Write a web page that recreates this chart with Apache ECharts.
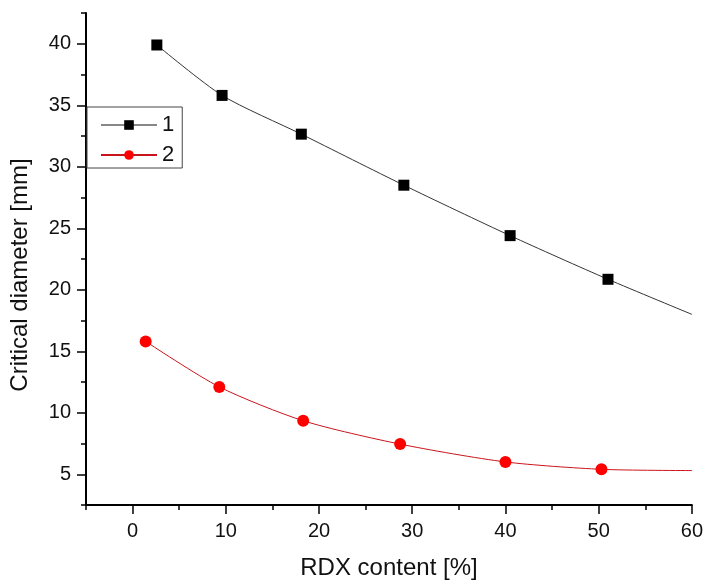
<!DOCTYPE html>
<html>
<head>
<meta charset="utf-8">
<script src="https://cdn.jsdelivr.net/npm/echarts@6/dist/echarts.min.js"></script>
<style>
  html, body { margin: 0; padding: 0; background: #fff; }
  #chart { width: 706px; height: 585px; }
</style>
</head>
<body>
<div id="chart"></div>
<script>
// series 1: black squares, series 2: red circles (x = RDX %, y = diameter mm)
const rdx1 = [2.6, 9.6, 18.1, 29.1, 40.5, 51.0, 60];
const dia1 = [39.9, 35.8, 32.65, 28.5, 24.4, 20.85, 18.0];
const rdx2 = [1.4, 9.3, 18.3, 28.7, 40.0, 50.3, 60];
const dia2 = [15.8, 12.1, 9.35, 7.45, 6.0, 5.4, 5.3];

const xLabels = [0, 10, 20, 30, 40, 50, 60];
const xMinor = [-5, 5, 15, 25, 35, 45, 55];
const yLabels = [5, 10, 15, 20, 25, 30, 35, 40];
const yMinor = [2.5, 7.5, 12.5, 17.5, 22.5, 27.5, 32.5, 37.5, 42.5];

const font = "Liberation Sans, Arial, sans-serif";

// last point of each curve is just the end of the fit line, no marker
function toPoints(xs, ys) {
  return xs.map((x, i) => {
    if (i === xs.length - 1) return { value: [x, ys[i]], symbol: "none" };
    return [x, ys[i]];
  });
}

const chart = echarts.init(document.getElementById("chart"));
chart.setOption({
  animation: false,
  grid: { left: 82, right: 13, top: 13, bottom: 76 },
  legend: {
    orient: "vertical",
    left: 87,
    top: 107,
    data: [
      { name: "1", lineStyle: { color: "#888" } },
      { name: "2", lineStyle: { color: "#c8141a" } },
    ],
    itemWidth: 56,
    itemHeight: 12,
    itemGap: 8,
    padding: [7, 8, 2, 13],
    borderColor: "#444",
    borderWidth: 1,
    backgroundColor: "#fff",
    textStyle: { fontFamily: font, fontSize: 22, color: "#111" },
  },
  xAxis: [
    {
      type: "value",
      min: -5,
      max: 60,
      position: "bottom",
      name: "RDX content [%]",
      nameLocation: "middle",
      nameGap: 51,
      nameTextStyle: { fontFamily: font, fontSize: 24, color: "#111" },
      splitLine: { show: false },
      axisLine: { onZero: false, lineStyle: { color: "#000", width: 2 } },
      axisTick: {
        customValues: xLabels,
        length: 9,
        lineStyle: { color: "#000", width: 1.5 },
      },
      axisLabel: {
        customValues: xLabels,
        margin: 16,
        fontFamily: font,
        fontSize: 20,
        color: "#111",
      },
    },
    {
      type: "value",
      min: -5,
      max: 60,
      position: "bottom",
      splitLine: { show: false },
      axisLine: { show: false, onZero: false },
      axisTick: {
        customValues: xMinor,
        length: 5,
        lineStyle: { color: "#000", width: 1.5 },
      },
      axisLabel: { show: false },
    },
  ],
  yAxis: [
    {
      type: "value",
      min: 2.5,
      max: 42.5,
      position: "left",
      name: "Critical diameter [mm]",
      nameLocation: "middle",
      nameGap: 54,
      nameTextStyle: {
        fontFamily: font,
        fontSize: 24,
        color: "#111",
        padding: [0, 32, 0, 0],
      },
      splitLine: { show: false },
      axisLine: { onZero: false, lineStyle: { color: "#000", width: 2 } },
      axisTick: {
        customValues: yLabels,
        length: 9,
        lineStyle: { color: "#000", width: 1.5 },
      },
      axisLabel: {
        customValues: yLabels,
        margin: 15,
        fontFamily: font,
        fontSize: 20,
        color: "#111",
      },
    },
    {
      type: "value",
      min: 2.5,
      max: 42.5,
      position: "left",
      splitLine: { show: false },
      axisLine: { show: false, onZero: false },
      axisTick: {
        customValues: yMinor,
        length: 5,
        lineStyle: { color: "#000", width: 1.5 },
      },
      axisLabel: { show: false },
    },
  ],
  series: [
    {
      name: "1",
      type: "line",
      data: toPoints(rdx1, dia1),
      smooth: 0.25,
      symbol: "rect",
      symbolSize: 11,
      itemStyle: { color: "#000" },
      lineStyle: { color: "#333", width: 1 },
    },
    {
      name: "2",
      type: "line",
      data: toPoints(rdx2, dia2),
      smooth: 0.25,
      symbol: "circle",
      symbolSize: 12,
      itemStyle: { color: "#f00" },
      lineStyle: { color: "#c8141a", width: 1 },
    },
  ],
});
</script>
</body>
</html>
